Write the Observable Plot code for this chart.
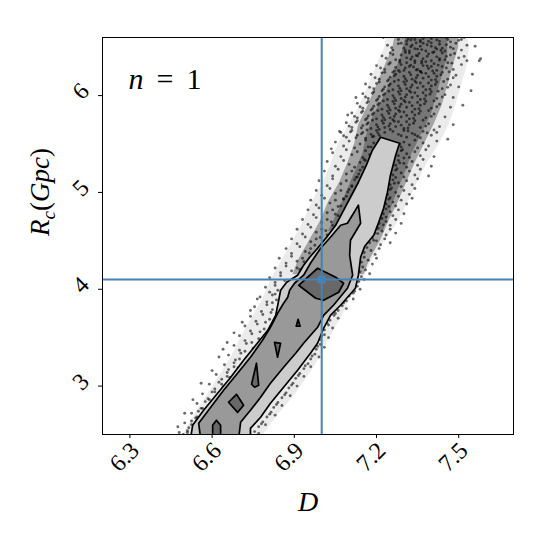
<!DOCTYPE html>
<html><head><meta charset="utf-8">
<script src="https://cdn.jsdelivr.net/npm/d3@7"></script>
<script src="https://cdn.jsdelivr.net/npm/@observablehq/plot@0.6"></script>
<style>body{margin:0;background:#fff}</style>
</head><body><div id="chart"></div>
<script>
// ---- axes / reference values ----
const xTicks = [6.3, 6.6, 6.9, 7.2, 7.5];
const yTicks = [3, 4, 5, 6];
const truthD = [7.0];
const truthR = [4.1];

// ---- contour polygons [D, R] ----
const outerContour = [[6.5215,2.46],[6.529,2.595],[6.569,2.75],[6.62,2.926],[6.668,3.091],[6.715,3.267],[6.759,3.421],[6.803,3.576],[6.832,3.731],[6.843,3.886],[6.85,3.99],[6.872,4.072],[6.912,4.145],[6.934,4.248],[6.956,4.331],[6.985,4.424],[7.018,4.537],[7.051,4.661],[7.076,4.795],[7.105,4.95],[7.134,5.105],[7.163,5.281],[7.185,5.436],[7.215,5.57],[7.284,5.508],[7.27,5.384],[7.251,5.178],[7.24,5.002],[7.226,4.837],[7.208,4.692],[7.19,4.558],[7.157,4.444],[7.142,4.331],[7.134,4.145],[7.123,4.01],[7.069,3.835],[7.032,3.731],[7.007,3.597],[6.985,3.442],[6.959,3.339],[6.912,3.164],[6.861,2.988],[6.813,2.822],[6.777,2.678],[6.74,2.564],[6.74,2.46]];
const innerContour = [[6.558,2.46],[6.551,2.616],[6.595,2.781],[6.642,2.957],[6.693,3.132],[6.74,3.298],[6.784,3.473],[6.813,3.607],[6.839,3.752],[6.861,3.855],[6.876,3.917],[6.883,3.99],[6.901,4.062],[6.934,4.145],[6.959,4.269],[6.996,4.424],[7.032,4.537],[7.069,4.661],[7.094,4.682],[7.134,4.868],[7.142,4.682],[7.105,4.506],[7.102,4.351],[7.113,4.145],[7.094,4.01],[7.043,3.835],[7.007,3.731],[6.985,3.607],[6.934,3.442],[6.905,3.339],[6.861,3.194],[6.813,3.029],[6.777,2.884],[6.74,2.75],[6.704,2.626],[6.697,2.46]];
const peakContours = [
  [[6.916,4.041],[6.985,4.217],[7.051,4.124],[7.08,4.062],[7.062,3.969],[7.007,3.886],[6.978,3.907]],
  [[6.914,3.69],[6.907,3.618],[6.921,3.618]],
  [[6.828,3.452],[6.85,3.442],[6.839,3.298]],
  [[6.762,3.236],[6.744,3.019],[6.755,2.988],[6.77,3.008]],
  [[6.66,2.833],[6.689,2.915],[6.715,2.802],[6.693,2.729]],
  [[6.602,2.46],[6.602,2.595],[6.616,2.647],[6.631,2.595],[6.631,2.46]]
];

// ---- scatter density envelopes (D extent by R) ----
const haloR     = [6.65,6.5,6.3,6.1,5.9,5.7,5.5,5.3,5.1,4.9,4.7,4.5,4.3,4.1,3.9,3.7,3.5,3.3,3.1,2.9,2.7,2.45];
const haloLeft  = [7.24,7.23,7.20,7.17,7.14,7.10,7.06,7.035,7.005,6.965,6.935,6.895,6.855,6.815,6.785,6.745,6.705,6.67,6.625,6.58,6.535,6.485];
const haloRight = [7.53,7.54,7.53,7.51,7.49,7.465,7.43,7.385,7.35,7.315,7.28,7.23,7.185,7.15,7.105,7.07,7.03,6.995,6.95,6.9,6.84,6.775];
const coreR     = [6.65,6.5,6.3,6.1,5.9,5.7,5.5,5.3,5.1,4.9,4.7,4.5,4.3,4.15];
const coreLeft  = [7.27,7.26,7.23,7.20,7.17,7.135,7.12,7.095,7.065,7.025,6.995,6.955,6.915,6.895];
const coreRight = [7.50,7.50,7.48,7.46,7.44,7.41,7.375,7.34,7.31,7.28,7.245,7.215,7.175,7.155];
const denseR     = [6.65,6.4,6.2,6.0,5.8,5.6,5.4,5.2,5.0,4.8,4.6];
const denseLeft  = [7.31,7.29,7.26,7.23,7.19,7.165,7.15,7.12,7.09,7.06,7.025];
const denseRight = [7.46,7.46,7.44,7.42,7.40,7.365,7.33,7.305,7.275,7.25,7.225];

// ---- individual samples [D, R] ----
const samples = [
[7.25,6.62],[7.28,6.58],[7.30,6.63],[7.31,6.56],[7.33,6.60],[7.35,6.64],[7.36,6.57],[7.38,6.61],[7.40,6.59],[7.41,6.63],[7.43,6.56],[7.44,6.61],[7.46,6.58],[7.48,6.63],[7.50,6.57],[7.52,6.60],[7.34,6.58],[7.39,6.56],[7.45,6.64],[7.32,6.61],
[7.24,6.52],[7.26,6.47],[7.29,6.54],[7.30,6.49],[7.32,6.46],[7.33,6.52],[7.35,6.48],[7.37,6.54],[7.38,6.46],[7.40,6.51],[7.42,6.48],[7.43,6.53],[7.45,6.46],[7.47,6.50],[7.49,6.54],[7.51,6.47],[7.56,6.51],[7.36,6.51],[7.41,6.45],[7.31,6.53],[7.44,6.49],
[7.22,6.41],[7.25,6.44],[7.27,6.37],[7.29,6.42],[7.31,6.39],[7.32,6.44],[7.34,6.36],[7.35,6.41],[7.37,6.38],[7.39,6.43],[7.40,6.36],[7.42,6.40],[7.44,6.44],[7.45,6.37],[7.47,6.42],[7.50,6.39],[7.53,6.36],[7.58,6.38],[7.33,6.40],[7.38,6.35],[7.43,6.38],
[7.20,6.31],[7.23,6.27],[7.25,6.34],[7.27,6.29],[7.29,6.32],[7.30,6.26],[7.32,6.30],[7.34,6.34],[7.35,6.27],[7.37,6.31],[7.39,6.28],[7.41,6.33],[7.42,6.26],[7.44,6.30],[7.46,6.34],[7.48,6.27],[7.51,6.32],[7.36,6.25],[7.31,6.34],[7.40,6.30],[7.28,6.26],
[7.18,6.22],[7.21,6.17],[7.23,6.24],[7.25,6.19],[7.27,6.22],[7.28,6.16],[7.30,6.20],[7.32,6.24],[7.33,6.17],[7.35,6.21],[7.37,6.18],[7.38,6.23],[7.40,6.16],[7.42,6.20],[7.44,6.24],[7.46,6.17],[7.49,6.21],[7.31,6.15],[7.36,6.25],[7.26,6.24],[7.41,6.23],
[7.16,6.12],[7.19,6.07],[7.21,6.14],[7.23,6.09],[7.25,6.12],[7.26,6.06],[7.28,6.10],[7.30,6.14],[7.31,6.07],[7.33,6.11],[7.35,6.08],[7.36,6.13],[7.38,6.06],[7.40,6.10],[7.42,6.14],[7.44,6.07],[7.47,6.11],[7.29,6.05],[7.34,6.15],[7.24,6.15],[7.39,6.13],[7.50,6.09],
[7.15,6.02],[7.17,5.97],[7.19,6.04],[7.21,5.99],[7.23,6.02],[7.24,5.96],[7.26,6.00],[7.28,6.04],[7.29,5.97],[7.31,6.01],[7.33,5.98],[7.34,6.03],[7.36,5.96],[7.38,6.00],[7.40,6.04],[7.42,5.97],[7.45,6.01],[7.27,5.95],[7.32,6.05],[7.22,6.05],[7.37,6.03],[7.48,5.98],
[7.13,5.92],[7.15,5.87],[7.17,5.94],[7.19,5.89],[7.21,5.92],[7.22,5.86],[7.24,5.90],[7.26,5.94],[7.27,5.87],[7.29,5.91],[7.31,5.88],[7.32,5.93],[7.34,5.86],[7.36,5.90],[7.38,5.94],[7.40,5.87],[7.43,5.91],[7.25,5.85],[7.30,5.95],[7.20,5.95],[7.35,5.93],[7.47,5.88],
[7.11,5.82],[7.13,5.77],[7.15,5.84],[7.17,5.79],[7.19,5.82],[7.20,5.76],[7.22,5.80],[7.24,5.84],[7.25,5.77],[7.27,5.81],[7.29,5.78],[7.30,5.83],[7.32,5.76],[7.34,5.80],[7.36,5.84],[7.38,5.77],[7.41,5.81],[7.23,5.75],[7.28,5.85],[7.18,5.85],[7.33,5.83],[7.45,5.78],
[7.09,5.72],[7.11,5.67],[7.13,5.74],[7.15,5.69],[7.17,5.72],[7.18,5.66],[7.20,5.70],[7.22,5.74],[7.23,5.67],[7.25,5.71],[7.27,5.68],[7.28,5.73],[7.30,5.66],[7.32,5.70],[7.34,5.74],[7.36,5.67],[7.39,5.71],[7.21,5.65],[7.26,5.75],[7.16,5.75],[7.31,5.73],[7.43,5.68],
[7.07,5.62],[7.09,5.57],[7.11,5.64],[7.13,5.59],[7.15,5.62],[7.16,5.56],[7.18,5.60],[7.20,5.64],[7.21,5.59],[7.23,5.62],[7.26,5.63],[7.28,5.60],[7.30,5.64],[7.31,5.57],[7.33,5.61],[7.35,5.58],[7.37,5.63],[7.40,5.59],[7.42,5.62],[7.25,5.65],[7.19,5.58],
[7.27,6.645],[7.295,6.605],[7.325,6.575],[7.345,6.625],[7.37,6.59],[7.395,6.635],[7.42,6.575],[7.455,6.6],[7.47,6.555],[7.49,6.615],[7.36,6.555],[7.315,6.585],[7.405,6.61],[7.51,6.58],
[7.255,6.495],[7.28,6.535],[7.305,6.465],[7.325,6.505],[7.345,6.545],[7.365,6.475],[7.385,6.525],[7.415,6.495],[7.435,6.465],[7.455,6.525],[7.48,6.485],[7.53,6.52],[7.34,6.485],[7.40,6.545],
[7.235,6.385],[7.26,6.425],[7.285,6.365],[7.305,6.445],[7.325,6.375],[7.345,6.415],[7.365,6.355],[7.385,6.405],[7.405,6.445],[7.43,6.365],[7.455,6.405],[7.485,6.435],[7.52,6.405],[7.355,6.435],
[7.215,6.285],[7.245,6.325],[7.265,6.255],[7.285,6.345],[7.305,6.285],[7.325,6.315],[7.345,6.265],[7.365,6.335],[7.385,6.305],[7.405,6.255],[7.425,6.315],[7.455,6.285],[7.475,6.335],[7.335,6.295],
[7.195,6.185],[7.22,6.235],[7.245,6.165],[7.265,6.205],[7.285,6.245],[7.305,6.175],[7.325,6.215],[7.345,6.185],[7.365,6.235],[7.39,6.195],[7.415,6.165],[7.435,6.215],[7.465,6.245],[7.48,6.185],
[7.175,6.085],[7.20,6.125],[7.225,6.065],[7.245,6.105],[7.265,6.145],[7.285,6.075],[7.305,6.115],[7.325,6.085],[7.345,6.135],[7.37,6.095],[7.395,6.065],[7.415,6.115],[7.445,6.145],[7.46,6.085],
[7.16,5.985],[7.185,6.025],[7.205,5.965],[7.225,6.005],[7.245,6.045],[7.265,5.975],[7.285,6.015],[7.305,5.985],[7.325,6.035],[7.35,5.995],[7.375,5.965],[7.395,6.015],[7.425,6.045],[7.44,5.985],
[7.14,5.885],[7.165,5.925],[7.185,5.865],[7.205,5.905],[7.225,5.945],[7.245,5.875],[7.265,5.915],[7.285,5.885],[7.305,5.935],[7.33,5.895],[7.355,5.865],[7.375,5.915],[7.41,5.945],[7.42,5.885],
[7.12,5.785],[7.145,5.825],[7.165,5.765],[7.185,5.805],[7.205,5.845],[7.225,5.775],[7.245,5.815],[7.265,5.785],[7.285,5.835],[7.31,5.795],[7.335,5.765],[7.355,5.815],[7.39,5.845],[7.40,5.785],
[7.10,5.685],[7.125,5.725],[7.145,5.665],[7.165,5.705],[7.185,5.745],[7.205,5.675],[7.225,5.715],[7.245,5.685],[7.265,5.735],[7.29,5.695],[7.315,5.665],[7.335,5.715],[7.37,5.745],[7.38,5.685],
[7.08,5.585],[7.105,5.625],[7.125,5.565],[7.145,5.605],[7.165,5.645],[7.185,5.575],[7.205,5.615],[7.29,5.585],[7.315,5.635],[7.34,5.595],[7.36,5.565],[7.385,5.615],[7.41,5.645],
[7.575,6.36],[7.545,6.05],[7.515,5.90],[7.125,5.98],[7.095,5.80],[7.065,5.63],[7.035,5.45],[7.48,5.70],[7.46,5.55],[7.55,6.22],[7.52,6.64],[7.225,6.60],
[7.05,5.52],[7.08,5.48],[7.10,5.53],[7.12,5.46],[7.14,5.50],[7.16,5.54],[7.17,5.47],[7.19,5.51],[7.29,5.47],[7.30,5.52],[7.32,5.49],[7.34,5.54],[7.35,5.46],[7.37,5.51],[7.39,5.48],[7.42,5.53],
[7.04,5.41],[7.07,5.37],[7.09,5.44],[7.11,5.39],[7.13,5.42],[7.15,5.36],[7.16,5.43],[7.28,5.38],[7.29,5.43],[7.31,5.40],[7.32,5.36],[7.34,5.42],[7.36,5.38],[7.38,5.44],[7.41,5.37],
[7.02,5.32],[7.05,5.27],[7.08,5.33],[7.10,5.29],[7.12,5.26],[7.14,5.31],[7.155,5.34],[7.27,5.28],[7.28,5.33],[7.30,5.30],[7.31,5.26],[7.33,5.32],[7.35,5.28],[7.37,5.34],[7.40,5.27],
[7.01,5.22],[7.04,5.17],[7.06,5.24],[7.09,5.19],[7.11,5.22],[7.13,5.16],[7.14,5.23],[7.26,5.18],[7.27,5.23],[7.29,5.20],[7.30,5.16],[7.32,5.22],[7.34,5.18],[7.36,5.24],[7.39,5.17],
[6.99,5.12],[7.02,5.07],[7.04,5.14],[7.07,5.09],[7.09,5.12],[7.11,5.06],[7.12,5.13],[7.25,5.08],[7.26,5.13],[7.28,5.10],[7.29,5.06],[7.31,5.12],[7.33,5.08],[7.35,5.14],
[6.98,5.02],[7.00,4.97],[7.03,5.04],[7.05,4.99],[7.07,5.02],[7.09,4.96],[7.10,5.03],[7.24,4.98],[7.25,5.03],[7.27,5.00],[7.28,4.96],[7.30,5.02],[7.32,4.98],[7.34,5.04],
[6.96,4.92],[6.98,4.87],[7.01,4.94],[7.03,4.89],[7.05,4.92],[7.07,4.86],[7.08,4.93],[7.235,4.88],[7.245,4.93],[7.26,4.90],[7.27,4.86],[7.29,4.92],[7.31,4.88],[7.33,4.94],
[6.95,4.82],[6.97,4.77],[6.99,4.84],[7.02,4.79],[7.04,4.82],[7.06,4.76],[7.225,4.78],[7.235,4.83],[7.25,4.80],[7.26,4.76],[7.28,4.82],[7.30,4.78],
[6.93,4.72],[6.95,4.67],[6.98,4.74],[7.00,4.69],[7.02,4.72],[7.04,4.66],[7.21,4.68],[7.22,4.73],[7.235,4.70],[7.25,4.66],[7.27,4.72],[7.29,4.68],
[6.91,4.62],[6.93,4.57],[6.96,4.64],[6.98,4.59],[7.00,4.62],[7.02,4.56],[7.195,4.58],[7.205,4.63],[7.22,4.60],[7.235,4.56],[7.25,4.62],[7.27,4.58],
[6.89,4.52],[6.91,4.47],[6.94,4.54],[6.96,4.49],[6.98,4.52],[7.00,4.46],[7.175,4.48],[7.185,4.53],[7.20,4.50],[7.215,4.46],[7.23,4.52],[7.25,4.48],
[6.87,4.42],[6.89,4.37],[6.92,4.44],[6.94,4.39],[6.96,4.42],[6.975,4.36],[7.155,4.38],[7.165,4.43],[7.18,4.40],[7.195,4.36],[7.21,4.42],
[6.845,4.32],[6.87,4.27],[6.89,4.34],[6.91,4.29],[6.93,4.32],[6.945,4.26],[7.145,4.28],[7.155,4.33],[7.17,4.30],[7.185,4.26],[7.20,4.32],
[6.83,4.22],[6.85,4.17],[6.87,4.24],[6.89,4.19],[6.91,4.22],[7.14,4.18],[7.15,4.23],[7.16,4.20],[7.175,4.16],
[6.81,4.12],[6.83,4.07],[6.85,4.14],[6.865,4.09],[7.135,4.08],[7.145,4.13],[7.155,4.10],
[6.795,4.02],[6.81,3.97],[6.83,4.04],[6.84,3.99],[7.12,3.98],[7.13,4.03],[7.14,4.00],
[6.775,3.92],[6.80,3.87],[6.82,3.94],[6.835,3.89],[7.09,3.88],[7.10,3.93],[7.115,3.90],
[6.755,3.82],[6.78,3.77],[6.80,3.84],[6.82,3.79],[7.06,3.78],[7.075,3.83],[7.09,3.80],
[6.74,3.72],[6.76,3.67],[6.785,3.74],[6.81,3.69],[7.03,3.68],[7.045,3.73],[7.06,3.70],
[6.72,3.62],[6.74,3.57],[6.765,3.64],[6.79,3.59],[7.01,3.58],[7.025,3.63],[7.04,3.60],
[6.70,3.52],[6.72,3.47],[6.745,3.54],[6.77,3.49],[6.995,3.48],[7.01,3.53],[7.025,3.50],
[6.68,3.42],[6.70,3.37],[6.725,3.44],[6.75,3.39],[6.98,3.38],[6.995,3.43],[7.01,3.40],
[6.66,3.32],[6.685,3.27],[6.705,3.34],[6.725,3.29],[6.96,3.28],[6.975,3.33],[6.99,3.30],
[6.645,3.22],[6.66,3.17],[6.68,3.24],[6.695,3.19],[6.935,3.18],[6.95,3.23],[6.96,3.20],
[6.615,3.12],[6.635,3.07],[6.655,3.14],[6.665,3.09],[6.905,3.08],[6.92,3.13],[6.935,3.10],
[6.59,3.02],[6.61,2.97],[6.625,3.04],[6.64,2.99],[6.88,2.98],[6.895,3.03],[6.91,3.00],
[6.565,2.92],[6.585,2.87],[6.60,2.94],[6.615,2.89],[6.855,2.88],[6.87,2.93],[6.885,2.90],
[6.545,2.82],[6.56,2.77],[6.575,2.84],[6.59,2.79],[6.825,2.78],[6.84,2.83],[6.855,2.80],
[6.525,2.72],[6.54,2.67],[6.55,2.74],[6.56,2.69],[6.80,2.68],[6.815,2.73],[6.83,2.70],
[6.50,2.62],[6.515,2.57],[6.525,2.64],[6.535,2.59],[6.77,2.58],[6.785,2.63],[6.795,2.60],
[6.48,2.52],[6.495,2.50],[6.51,2.54],[6.755,2.53],[6.77,2.51],
[7.285,5.50],[7.295,5.44],[7.30,5.355],[7.285,5.305],[7.275,5.245],[7.27,5.155],[7.265,5.095],[7.255,5.045],[7.25,4.945],[7.245,4.855],[7.235,4.745],[7.225,4.665],[7.205,4.575],[7.19,4.505],
[7.18,5.47],[7.175,5.39],[7.16,5.33],[7.15,5.26],[7.135,5.19],[7.125,5.155],[7.11,5.07],[7.095,5.005],[7.08,4.935],[7.06,4.855],[7.05,4.775],[7.035,4.695],[7.015,4.605],[6.995,4.535],[6.975,4.455],[6.955,4.375],[6.935,4.285],[6.92,4.205],
[6.83,3.95],[6.82,3.86],[6.815,3.76],[6.795,3.66],[6.775,3.56],[6.745,3.45],[6.72,3.36],[6.70,3.28],[6.68,3.20],[6.655,3.10],[6.635,3.02],[6.61,2.94],[6.59,2.86],[6.565,2.77],[6.545,2.68],[6.525,2.60],[6.51,2.52],
[7.115,3.96],[7.08,3.86],[7.05,3.75],[7.02,3.65],[7.00,3.52],[6.985,3.41],[6.965,3.31],[6.94,3.21],[6.915,3.11],[6.89,3.01],[6.865,2.91],[6.835,2.81],[6.81,2.71],[6.78,2.61],
[6.765,3.90],[6.71,3.66],[6.68,3.55],[6.655,3.45],[6.625,3.30],[6.60,3.16],[6.56,3.03],[6.53,2.86],[6.50,2.72],[6.475,2.58],[6.74,3.78],[6.64,3.38]
];

// ---- build tables ----
const toPts = a => a.map(([D, R]) => ({D, R}));
const closed = a => toPts([...a, a[0]]);
const band = (rs, ls, hs) => rs.map((r, i) => ({R: r, L: ls[i], H: hs[i]}));
const halo = band(haloR, haloLeft, haloRight);
const core = band(coreR, coreLeft, coreRight);
const dense = band(denseR, denseLeft, denseRight);
const peaks = peakContours.flatMap((p, k) => closed(p).map(d => ({...d, id: k})));
const samplePts = toPts(samples);
const contourStroke = {stroke: "black", strokeWidth: 1.7, strokeLinejoin: "round", clip: true};
const FONT = "'Liberation Serif', 'DejaVu Serif', serif";

const plot = Plot.plot({
  width: 550, height: 550,
  marginLeft: 102, marginRight: 37, marginTop: 37, marginBottom: 116,
  x: {domain: [6.2, 7.7], axis: null},
  y: {domain: [2.5, 6.6], axis: null},
  style: {fontFamily: FONT, background: "white", color: "black"},
  marks: [
    Plot.areaX(halo, {y: "R", x1: "L", x2: "H", fill: "black", fillOpacity: 0.08, clip: true}),
    Plot.areaX(core, {y: "R", x1: "L", x2: "H", fill: "black", fillOpacity: 0.3, clip: true}),
    Plot.areaX(dense, {y: "R", x1: "L", x2: "H", fill: "black", fillOpacity: 0.28, clip: true}),
    Plot.dot(samplePts, {x: "D", y: "R", r: 1.45, fill: "black", fillOpacity: 0.58, stroke: null, clip: true}),
    Plot.line(closed(outerContour), {x: "D", y: "R", fill: "#cccccc", ...contourStroke}),
    Plot.line(closed(innerContour), {x: "D", y: "R", fill: "#999999", ...contourStroke}),
    Plot.line(peaks, {x: "D", y: "R", z: "id", fill: "#686868", ...contourStroke}),
    Plot.ruleX(truthD, {stroke: "#4682b4", strokeWidth: 2}),
    Plot.ruleY(truthR, {stroke: "#4682b4", strokeWidth: 2}),
    Plot.dot(truthD.map((d, i) => ({D: d, R: truthR[i]})), {x: "D", y: "R", symbol: "square", r: 4.5, fill: "#4682b4"}),
    Plot.axisX({ticks: xTicks, tickSize: 4, tickFormat: () => "", label: null, stroke: "black"}),
    Plot.axisY({ticks: yTicks, tickSize: 4, tickFormat: () => "", label: null, stroke: "black"}),
    Plot.frame({stroke: "black", strokeWidth: 1}),
    Plot.text(xTicks, {x: d => d, frameAnchor: "bottom", dy: 28, rotate: -45, text: d => d.toFixed(1), fontSize: 24, fontFamily: FONT, fill: "black"}),
    Plot.text(yTicks, {y: d => d, frameAnchor: "left", dx: -26, rotate: -45, text: d => String(d), fontSize: 24, fontFamily: FONT, fill: "black"}),
    Plot.text(["D"], {frameAnchor: "bottom", dy: 76, text: d => d, fontSize: 28, fontStyle: "italic", fontFamily: FONT, fill: "black"}),
    Plot.text(["R_c(Gpc)"], {frameAnchor: "left", dx: -62, rotate: -90, text: d => d, fontSize: 27, fontFamily: FONT, fill: "black"}),
    Plot.text(["n = 1"], {frameAnchor: "top-left", dx: 26, dy: 30, textAnchor: "start", text: d => d, fontSize: 30, fontFamily: FONT, fill: "black"})
  ]
});

// rich math-like text (italic variables, subscript)
const SVGNS = "http://www.w3.org/2000/svg";
function rich(el, parts) {
  el.textContent = "";
  for (const p of parts) {
    const ts = document.createElementNS(SVGNS, "tspan");
    ts.textContent = p.t;
    ts.setAttribute("font-style", p.i ? "italic" : "normal");
    if (p.dy) ts.setAttribute("dy", p.dy);
    if (p.dx) ts.setAttribute("dx", p.dx);
    if (p.fs) ts.setAttribute("font-size", p.fs);
    el.appendChild(ts);
  }
}
d3.select(plot).selectAll("text").each(function () {
  const t = this.textContent;
  if (t === "R_c(Gpc)") {
    rich(this, [{t: "R", i: true}, {t: "c", i: true, dy: 6, fs: 19}, {t: "(", dy: -6}, {t: "Gpc", i: true}, {t: ")"}]);
  } else if (t === "n = 1") {
    rich(this, [{t: "n", i: true}, {t: "=", dx: 13}, {t: "1", dx: 13}]);
  }
});
document.getElementById("chart").appendChild(plot);
</script>
</body></html>
